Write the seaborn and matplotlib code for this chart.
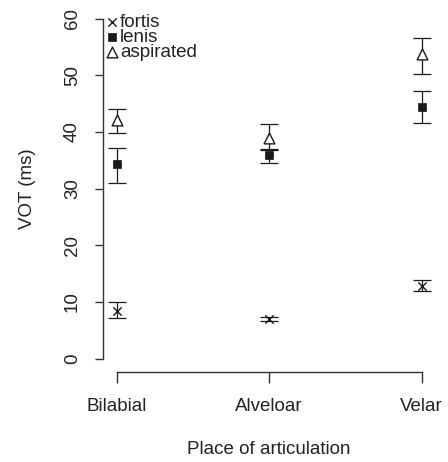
import matplotlib
matplotlib.use("Agg")
import matplotlib.pyplot as plt
import seaborn as sns
import numpy as np

places = ["Bilabial", "Alveloar", "Velar"]

fortis_mean = [8.4, 7.0, 12.9]
fortis_lo = [7.1, 6.7, 11.9]
fortis_hi = [10.0, 7.3, 13.9]

lenis_mean = [34.3, 36.0, 44.5]
lenis_lo = [31.0, 34.6, 41.6]
lenis_hi = [37.1, 37.0, 47.2]

asp_mean = [42.1, 38.9, 53.7]
asp_lo = [39.9, 36.9, 50.2]
asp_hi = [44.0, 41.4, 56.6]

y_ticks = [0, 10, 20, 30, 40, 50, 60]

sns.set_style("white")
plt.rcParams["font.family"] = ["Liberation Sans", "DejaVu Sans"]

W, H = 448, 462
fig = plt.figure(figsize=(W / 100, H / 100), dpi=100)
ax = fig.add_axes([103 / W, (H - 372) / H, 332.4 / W, 364.6 / H])

ink = "#1a1a1a"
FS = 13.5

series = [
    ("fortis", fortis_mean, fortis_lo, fortis_hi,
     dict(marker="x", color=ink, s=36, linewidth=1.0)),
    ("lenis", lenis_mean, lenis_lo, lenis_hi,
     dict(marker="s", color=ink, edgecolor=ink, s=34, linewidth=0.5)),
    ("aspirated", asp_mean, asp_lo, asp_hi,
     dict(marker="^", facecolor="white", edgecolor=ink, s=60, linewidth=1.0)),
]

for name, m, lo, hi, kw in series:
    m = np.asarray(m); lo = np.asarray(lo); hi = np.asarray(hi)
    ax.errorbar(places, m, yerr=[m - lo, hi - m], fmt="none", ecolor=ink,
                elinewidth=0.9, capsize=6.7, capthick=0.9, zorder=2)
    sns.scatterplot(x=places, y=m, ax=ax, label=name, zorder=3, **kw)

ax.set_xlim(-0.09, 2.09)
ax.set_ylim(-2.35, 62)

for s in ["top", "right"]:
    ax.spines[s].set_visible(False)
for s in ["left", "bottom"]:
    ax.spines[s].set_color("#333333")
    ax.spines[s].set_linewidth(1.0)
ax.spines["left"].set_bounds(0, 60)
ax.spines["bottom"].set_bounds(0, 2)

ax.set_yticks(y_ticks)
ax.set_yticklabels([str(v) for v in y_ticks], rotation=90, va="center")
ax.tick_params(axis="y", direction="out", length=5.8, width=1.0, color="#333333",
               pad=10, labelsize=FS, labelcolor="#222222", left=True)
ax.tick_params(axis="x", direction="out", length=7.6, width=1.0, color="#333333",
               pad=11, labelsize=FS, labelcolor="#222222", bottom=True)

ax.set_xlabel("Place of articulation", fontsize=FS, color="#222222", va="center")
ax.set_ylabel("VOT (ms)", fontsize=FS, color="#222222", va="center")
ax.xaxis.set_label_coords((269 - 103) / 332.4, (372 - 450) / 364.6)
ax.yaxis.set_label_coords((27 - 103) / 332.4, (372 - 189) / 364.6)

ax.grid(False)

leg = ax.legend(loc="upper left", bbox_to_anchor=(106.0 / W, (H - 14) / H),
                bbox_transform=fig.transFigure, frameon=False, fontsize=FS,
                handlelength=0.6, handletextpad=0.15, borderpad=0,
                borderaxespad=0, labelspacing=-0.12)
for t in leg.get_texts():
    t.set_color("#222222")

fig.savefig("out.png", dpi=100)
